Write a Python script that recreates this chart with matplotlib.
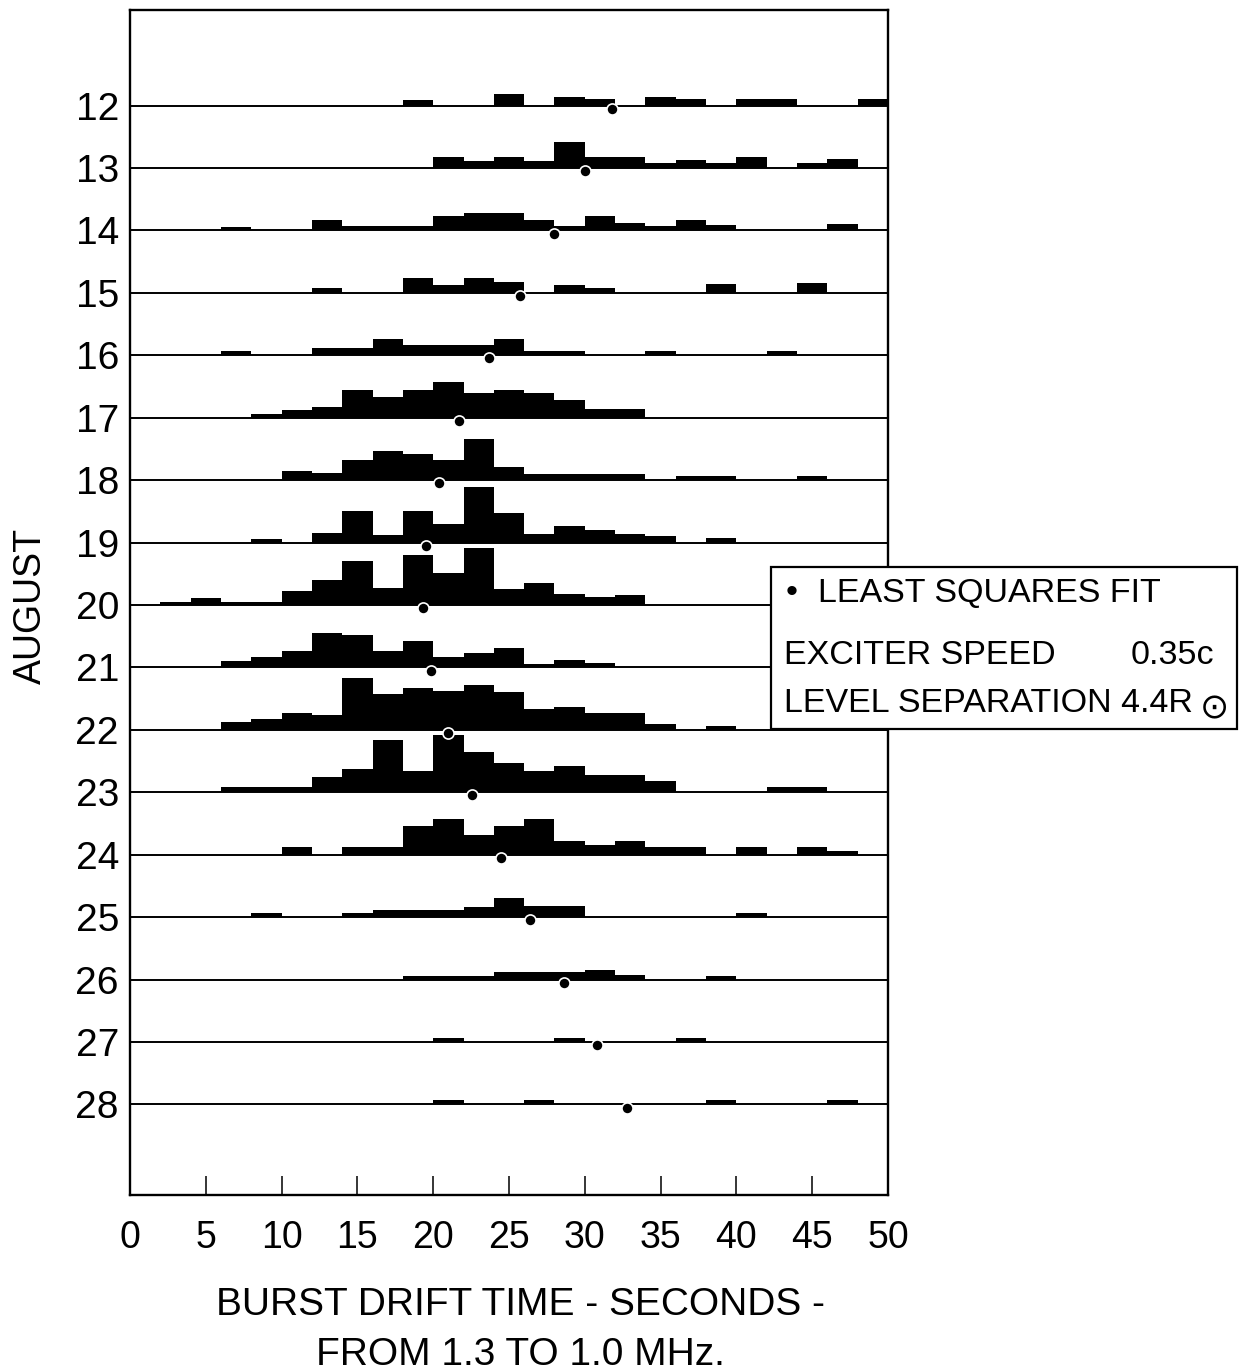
import matplotlib
matplotlib.use("Agg")
import matplotlib.pyplot as plt
from matplotlib import font_manager
from matplotlib.patches import Rectangle

# ---------------- data ----------------
days = [12, 13, 14, 15, 16, 17, 18, 19, 20, 21, 22, 23, 24, 25, 26, 27, 28]
bin_starts = [0, 2, 4, 6, 8, 10, 12, 14, 16, 18, 20, 22, 24, 26, 28, 30,
              32, 34, 36, 38, 40, 42, 44, 46, 48]
bin_width = 2

# histogram heights per day (relative units), one value per 2-s bin
h12 = [0, 0, 0, 0, 0, 0, 0, 0, 0, 1.1, 0, 0, 2.2, 0, 1.6, 1.3, 0, 1.7, 1.3, 0, 1.3, 1.3, 0, 0, 1.3]
h13 = [0, 0, 0, 0, 0, 0, 0, 0, 0, 0, 2.2, 1.4, 2.2, 1.4, 5.0, 2.2, 2.2, 1.0, 1.6, 1.0, 2.2, 0, 1.0, 1.8, 0]
h14 = [0, 0, 0, 0.7, 0, 0, 2.0, 0.8, 0.8, 0.8, 2.75, 3.4, 3.4, 2.0, 0.8, 2.75, 1.5, 0.8, 2.0, 1.0, 0, 0, 0, 1.2, 0]
h15 = [0, 0, 0, 0, 0, 0, 1.0, 0, 0, 2.9, 1.6, 2.9, 2.1, 0, 1.6, 1.0, 0, 0, 0, 1.7, 0, 0, 1.8, 0, 0]
h16 = [0, 0, 0, 0.8, 0, 0, 1.3, 1.3, 3.1, 2.0, 2.0, 2.0, 3.1, 0.8, 0.8, 0, 0, 0.8, 0, 0, 0, 0.8, 0, 0, 0]
h17 = [0, 0, 0, 0, 0.8, 1.5, 2.1, 5.3, 4.0, 5.3, 6.9, 4.8, 5.3, 4.8, 3.4, 1.7, 1.7, 0, 0, 0, 0, 0, 0, 0, 0]
h18 = [0, 0, 0, 0, 0, 1.8, 1.3, 3.85, 5.6, 5.1, 3.85, 8.0, 2.6, 1.1, 1.1, 1.1, 1.1, 0, 0.8, 0.8, 0, 0, 0.8, 0, 0]
h19 = [0, 0, 0, 0, 0.65, 0, 1.8, 6.1, 1.4, 6.1, 3.65, 10.7, 5.6, 1.7, 3.2, 2.4, 1.7, 1.3, 0, 0.8, 0, 0, 0, 0, 0]
h20 = [0, 0.5, 1.3, 0.65, 0.65, 2.6, 4.9, 8.5, 3.2, 9.7, 6.2, 10.9, 3.1, 4.2, 2.2, 1.6, 1.9, 0, 0, 0, 0, 0, 0, 0, 0]
h21 = [0, 0, 0, 1.3, 2.0, 3.2, 6.7, 6.2, 3.2, 5.1, 2.0, 2.7, 3.8, 0.6, 1.4, 0.8, 0, 0, 0, 0, 0, 0, 0, 0, 0]
h22 = [0, 0, 0, 1.5, 2.0, 3.2, 2.8, 9.9, 6.9, 8.1, 7.5, 8.6, 7.3, 4.1, 4.4, 3.3, 3.3, 1.2, 0, 0.65, 0, 0, 0, 0, 0]
h23 = [0, 0, 0, 0.95, 0.95, 0.95, 2.9, 4.5, 10.1, 4.0, 11.1, 7.7, 5.6, 4.0, 5.1, 3.3, 3.3, 2.1, 0, 0, 0, 0.95, 0.95, 0, 0]
h24 = [0, 0, 0, 0, 0, 1.4, 0, 1.5, 1.5, 5.6, 6.9, 3.85, 5.6, 6.9, 2.7, 1.8, 2.7, 1.4, 1.4, 0, 1.5, 0, 1.4, 0.8, 0]
h25 = [0, 0, 0, 0, 0.8, 0, 0, 0.8, 1.3, 1.3, 1.3, 1.9, 3.7, 2.1, 2.1, 0, 0, 0, 0, 0, 0.8, 0, 0, 0, 0]
h26 = [0, 0, 0, 0, 0, 0, 0, 0, 0, 0.65, 0.65, 0.65, 1.5, 1.5, 1.5, 1.8, 0.8, 0, 0, 0.7, 0, 0, 0, 0, 0]
h27 = [0, 0, 0, 0, 0, 0, 0, 0, 0, 0, 0.8, 0, 0, 0, 0.8, 0, 0, 0, 0.8, 0, 0, 0, 0, 0, 0]
h28 = [0, 0, 0, 0, 0, 0, 0, 0, 0, 0, 0.8, 0, 0, 0.8, 0, 0, 0, 0, 0, 0.8, 0, 0, 0, 0.8, 0]

# least squares fit position for each day (seconds)
fit_x = [31.8, 30.0, 27.95, 25.7, 23.7, 21.7, 20.35, 19.5, 19.35, 19.85,
         21.0, 22.55, 24.5, 26.4, 28.6, 30.8, 32.8]

x_ticks = [0, 5, 10, 15, 20, 25, 30, 35, 40, 45, 50]
legend_title = "LEAST SQUARES FIT"
speed_label, speed_value = "EXCITER SPEED", "0.35c"
sep_label = "LEVEL SEPARATION 4.4R"

heights = [h12, h13, h14, h15, h16, h17, h18, h19, h20, h21, h22, h23,
           h24, h25, h26, h27, h28]

# ---------------- fonts ----------------
def pick_font():
    for fam in ["Liberation Sans Narrow", "Liberation Sans"]:
        try:
            font_manager.findfont(font_manager.FontProperties(family=fam),
                                  fallback_to_default=False)
            return fam
        except Exception:
            continue
    return "DejaVu Sans"

FONT = pick_font()
k = 1.22 if FONT == "Liberation Sans Narrow" else 1.0
plt.rcParams["font.family"] = [FONT, "DejaVu Sans"]

# ---------------- figure ----------------
W, H = 1239, 1372
fig = plt.figure(figsize=(W / 100, H / 100), dpi=100)
ax = fig.add_axes([130 / W, 1 - 1195 / H, (888 - 130) / W, (1195 - 10) / H])

unit = 1 / 12.0  # one height unit in row-spacing units
for d, h in zip(days, heights):
    ax.axhline(d, color="black", lw=1.4, zorder=2)
    ax.bar(bin_starts, [-v * unit for v in h], width=bin_width, bottom=d,
           align="edge", color="black", linewidth=0, zorder=3)

dot_drop = 0.05
ax.plot(fit_x, [d + dot_drop for d in days], "o", color="black",
        markersize=8, markeredgecolor="white", markeredgewidth=1.2, zorder=5)

ax.set_xlim(0, 50)
ax.set_ylim(29.45, 10.47)
ax.set_xticks(x_ticks)
ax.set_xticklabels([str(t) for t in x_ticks], fontsize=27 * k)
ax.set_yticks(days)
ax.set_yticklabels([str(d) for d in days], fontsize=28 * k)
ax.tick_params(axis="x", direction="in", length=14, width=1.1, pad=18)
ax.tick_params(axis="y", length=0, pad=8)
for s in ax.spines.values():
    s.set_linewidth(1.7)

ax.set_ylabel("AUGUST", fontsize=27 * k)
ax.yaxis.set_label_coords(-(130 - 49) / (888 - 130), (1195 - 606) / (1195 - 10))
ax.set_xlabel("BURST DRIFT TIME - SECONDS -\nFROM 1.3 TO 1.0 MHz.",
              fontsize=28 * k, linespacing=1.5)
ax.xaxis.set_label_coords((520 - 130) / (888 - 130), -(1287 - 1195) / (1195 - 10))

# ---------------- legend box ----------------
def fx(px):
    return px / W

def fy(py):
    return 1 - py / H

box = Rectangle((fx(771), fy(729)), fx(1237) - fx(771), fy(567) - fy(729),
                transform=fig.transFigure, facecolor="white",
                edgecolor="black", linewidth=1.6, zorder=10)
fig.add_artist(box)
fs = 24.5 * k
fig.text(fx(792), fy(594), "\u2022", fontsize=fs, ha="center", va="center", zorder=11)
fig.text(fx(818), fy(594), legend_title, fontsize=fs, ha="left", va="center", zorder=11)
fig.text(fx(784), fy(655), speed_label, fontsize=fs, ha="left", va="center", zorder=11)
fig.text(fx(1214), fy(655), speed_value, fontsize=fs, ha="right", va="center", zorder=11)
fig.text(fx(784), fy(703), sep_label, fontsize=fs, ha="left", va="center", zorder=11)
fig.text(fx(1214), fy(708), "\u2299", fontsize=25, ha="center", va="center",
         family="DejaVu Sans", zorder=11)

fig.savefig("out.png", dpi=100)
